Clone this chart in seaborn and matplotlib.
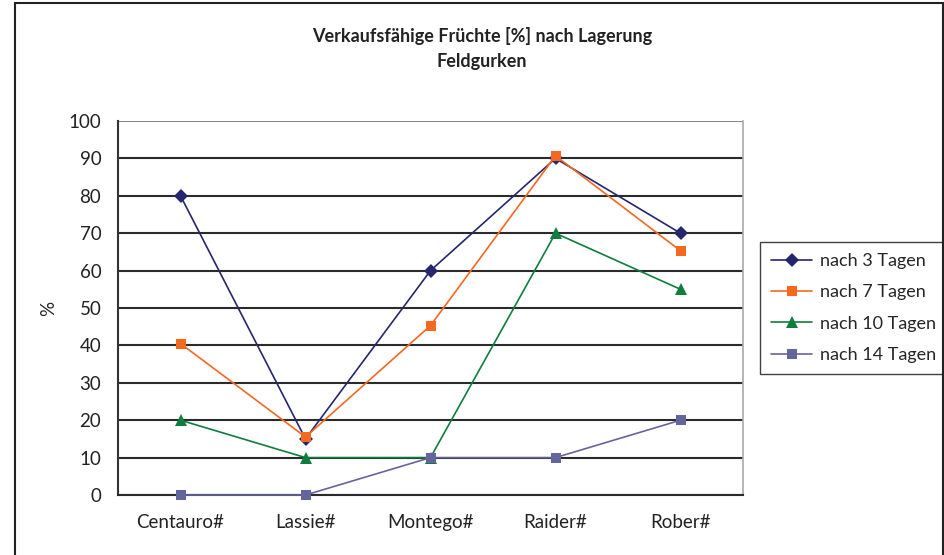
import numpy as np
import pandas as pd
import matplotlib
matplotlib.use("Agg")
import matplotlib.pyplot as plt
import seaborn as sns
from matplotlib.patches import Rectangle

sorten = ["Centauro#", "Lassie#", "Montego#", "Raider#", "Rober#"]
serien = ["nach 3 Tagen", "nach 7 Tagen", "nach 10 Tagen", "nach 14 Tagen"]
tag3 = [80, 15, 60, 90, 70]
tag7 = [40.5, 15.5, 45.3, 90.7, 65.3]
tag10 = [20, 10, 10, 70, 55]
tag14 = [0, 0, 10, 10, 20]

farben = {"nach 3 Tagen": "#26266E", "nach 7 Tagen": "#F4681F",
          "nach 10 Tagen": "#0F7D3C", "nach 14 Tagen": "#65659E"}
marker = {"nach 3 Tagen": "D", "nach 7 Tagen": "s",
          "nach 10 Tagen": "^", "nach 14 Tagen": "s"}
# marker sizes per series (points)
groesse = {"nach 3 Tagen": 7, "nach 7 Tagen": 7.5,
           "nach 10 Tagen": 8.5, "nach 14 Tagen": 6.5}

df = pd.DataFrame({
    "Sorte": sorten * 4,
    "Wert": tag3 + tag7 + tag10 + tag14,
    "Serie": np.repeat(serien, len(sorten)),
})

sns.set_style("white")
plt.rcParams["font.family"] = ["Lato", "DejaVu Sans"]

fig = plt.figure(figsize=(9.45, 5.55), dpi=100)
ax = fig.add_axes([118 / 945, 1 - 495 / 555, 625 / 945, 374 / 555])

sns.lineplot(data=df, x="Sorte", y="Wert", hue="Serie", style="Serie",
             palette=farben, markers=marker, dashes=False, sort=False,
             linewidth=1.2, markersize=7, markeredgewidth=0, ax=ax)

for line, serie in zip(ax.lines, serien):
    line.set_markersize(groesse[serie])
    line.set_clip_on(False)
    line.set_zorder(3 + serien.index(serie) * 0.01)

ax.set_xlim(-0.5, 4.5)
ax.set_ylim(0, 100)
ax.set_yticks(range(0, 101, 10))
ax.yaxis.grid(True, color="#2b2b2b", linewidth=1.5)
ax.get_ygridlines()[-1].set_color("#8a8a8a")
ax.set_axisbelow(True)
ax.set_xticks(range(len(sorten)))
ax.set_xticklabels(sorten)
ax.set_xticks(np.arange(-0.5, 5, 1), minor=True)
ax.tick_params(axis="x", which="major", length=0, pad=14, labelsize=13.5, colors="#222222")
ax.tick_params(axis="x", which="minor", length=6, width=1.5, color="#333333", direction="out")
ax.tick_params(axis="y", length=6, width=1.5, color="#333333", labelsize=13.5,
               labelcolor="#222222", pad=6)
ax.set_xlabel("")
ax.set_ylabel("%", fontsize=13.5, color="#222222", labelpad=8)

ax.spines["top"].set_visible(False)
ax.spines["left"].set_color("#333333")
ax.spines["left"].set_linewidth(1.5)
ax.spines["bottom"].set_color("#2b2b2b")
ax.spines["bottom"].set_linewidth(1.5)
ax.spines["right"].set_color("#aaaaaa")
ax.spines["right"].set_linewidth(1.2)

leg = ax.legend(loc="upper left", bbox_to_anchor=(760 / 945, 1 - 242 / 555),
                bbox_transform=fig.transFigure, fontsize=13, frameon=True,
                fancybox=False, edgecolor="#111111", borderpad=0.6,
                labelspacing=0.85, handlelength=2.3, handletextpad=0.4,
                borderaxespad=0, title=None)
leg.get_frame().set_linewidth(1.0)
for h, serie in zip(leg.legend_handles, serien):
    h.set_markersize(groesse[serie])

fig.text(482 / 945, 1 - 36 / 555, "Verkaufsfähige Früchte [%] nach Lagerung",
         ha="center", va="center", fontsize=13, fontweight="bold", color="#222222")
fig.text(482 / 945, 1 - 61 / 555, "Feldgurken",
         ha="center", va="center", fontsize=13, fontweight="bold", color="#222222")

fig.patches.append(Rectangle((15 / 945, -0.05), 928 / 945, 1.05 - 3 / 555,
                             transform=fig.transFigure, fill=False,
                             edgecolor="#222222", linewidth=1.5))

fig.savefig("out.png", dpi=100)
